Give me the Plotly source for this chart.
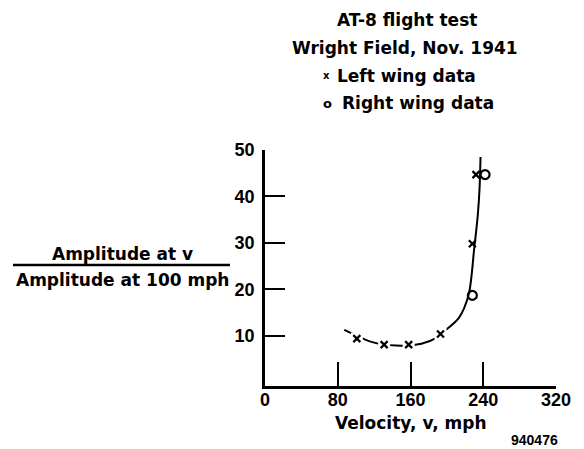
import plotly.graph_objects as go

# Data
left_v = [101, 131, 158, 193, 228, 232]
left_amp = [9.4, 8.1, 8.1, 10.4, 29.8, 44.7]
right_v = [228, 242]
right_amp = [18.7, 44.7]
curve_v = [87, 97, 117, 144, 172, 189, 198, 213, 224, 230, 234, 236, 237]
curve_amp = [11.3, 10.4, 8.7, 7.9, 8.3, 9.6, 11.1, 13.8, 18.9, 28.7, 36, 42, 48.5]
x_ticks = [0, 80, 160, 240, 320]
y_ticks = [10, 20, 30, 40, 50]

# page is drawn with an 8px body margin; all pixel positions below are page pixels
OFF = 8
PW, PH = 584, 449
L, R, T, B = 265, 556, 150, 386  # plot area in page pixels
TFONT = "DejaVu Sans"
NFONT = "Liberation Sans"

def px(x):
    return (x - L) / (R - L)

def py(y):
    return (B - y) / (B - T)

fig = go.Figure()
fig.add_trace(go.Scatter(x=curve_v, y=curve_amp, mode="lines",
                         line=dict(color="black", width=2, shape="spline", smoothing=0.8),
                         hoverinfo="skip", showlegend=False))
# white halos to break the curve around the low markers
fig.add_trace(go.Scatter(x=left_v[:4], y=left_amp[:4], mode="markers",
                         marker=dict(symbol="square", size=12, color="white"),
                         hoverinfo="skip", showlegend=False))
fig.add_trace(go.Scatter(x=left_v, y=left_amp, mode="markers", name="Left wing data",
                         marker=dict(symbol="x-thin", size=7, color="black",
                                     line=dict(width=2.2, color="black")),
                         showlegend=False))
fig.add_trace(go.Scatter(x=right_v, y=right_amp, mode="markers", name="Right wing data",
                         marker=dict(symbol="circle-open", size=9, color="black",
                                     line=dict(width=2.2, color="black")),
                         showlegend=False))

tickfont = dict(family=NFONT, size=18, color="black", weight="bold")
fig.update_xaxes(range=[0, 320], tickvals=x_ticks, ticktext=[str(v) for v in x_ticks],
                 ticks="inside", ticklen=24, tickwidth=2, tickcolor="black",
                 showline=True, linewidth=2.5, linecolor="black",
                 showgrid=False, zeroline=False, tickfont=tickfont,
                 ticklabelstandoff=-4)
fig.update_yaxes(range=[-0.8, 50], tickvals=y_ticks, ticktext=[str(v) for v in y_ticks],
                 ticks="inside", ticklen=20, tickwidth=2, tickcolor="black",
                 showline=True, linewidth=2.5, linecolor="black",
                 showgrid=False, zeroline=False, tickfont=tickfont,
                 ticklabelstandoff=4)

tfont = dict(family=TFONT, size=17, color="black", weight="bold")
ann = [
    ("AT-8 flight test", 407, 20, "center", tfont),
    ("Wright Field, Nov. 1941", 405, 48, "center", tfont),
    ("x", 326, 76, "center", dict(family=TFONT, size=10, color="black", weight="bold")),
    ("Left wing data", 335, 76, "left", tfont),
    ("o", 327, 103, "center", dict(family=TFONT, size=13, color="black", weight="bold")),
    ("Right wing data", 340, 103, "left", tfont),
    ("Amplitude at v", 122, 254, "center", tfont),
    ("Amplitude at 100 mph", 122, 280, "center", tfont),
    ("Velocity, v, mph", 411, 423, "center", tfont),
    ("940476", 534, 440, "center", dict(family=NFONT, size=14, color="black", weight="bold")),
]
annotations = [dict(text=t, x=px(x), y=py(y), xref="paper", yref="paper",
                    xanchor=a, yanchor="middle", showarrow=False, font=f)
               for t, x, y, a, f in ann]

fig.update_layout(
    width=PW - OFF, height=PH - OFF,
    margin=dict(l=L - OFF, r=PW - R, t=T - OFF, b=PH - B, pad=0),
    plot_bgcolor="white", paper_bgcolor="white",
    annotations=annotations,
    shapes=[dict(type="line", xref="paper", yref="paper",
                 x0=px(13), x1=px(230), y0=py(265), y1=py(265),
                 line=dict(color="black", width=2.5))],
)

fig.write_html("out.html")
